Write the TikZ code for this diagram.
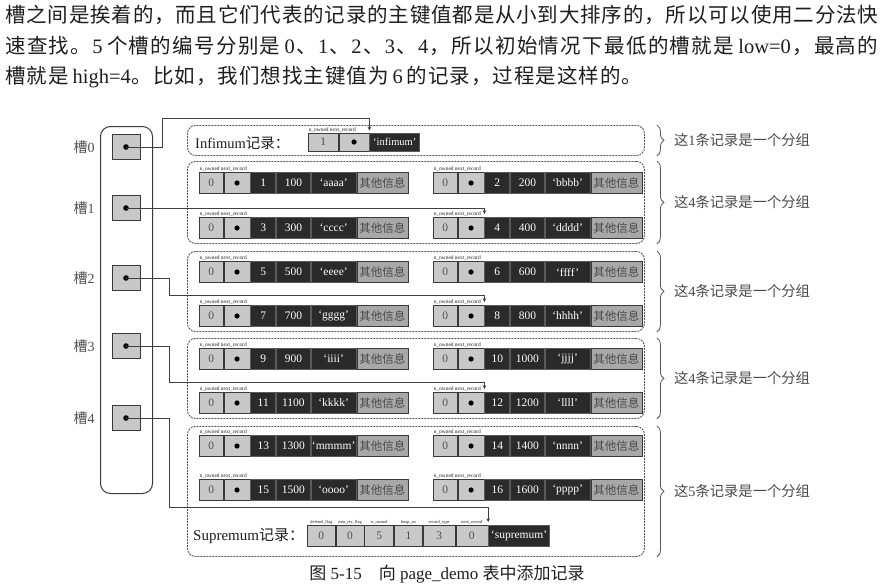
\documentclass[tikz,border=0pt]{standalone}
\usepackage{fontspec}
\setmainfont{Liberation Serif}
\newfontfamily\cjk{Noto Sans CJK SC}
\usetikzlibrary{arrows.meta,decorations.pathreplacing}
\newcommand\lat[1]{{\rmfamily #1}}
\ExplSyntaxOn
\NewDocumentCommand\spreadline{m m}
  {
    \makebox[#1][s]{ \tl_map_inline:nn {#2} { ##1 \skip_horizontal:n { 0pt plus 1fil } } \unskip }
  }
\ExplSyntaxOff
\definecolor{bordc}{HTML}{3A3A3A}
\definecolor{lightc}{HTML}{C8C8C8}
\definecolor{darkc}{HTML}{2A2A2A}
\definecolor{sepc}{HTML}{5A5A5A}
\definecolor{otherc}{HTML}{A8A8A8}
\definecolor{othertxt}{HTML}{4A4A4A}
\definecolor{grpc}{HTML}{555555}
\definecolor{connc}{HTML}{3F3F3F}
\definecolor{txtc}{HTML}{1E1E1E}
\definecolor{graytxt}{HTML}{505050}
\newcommand\rec[6]{%
  \node[lc,minimum width=24pt,anchor=west] (#1a) at (#2,#3) {0};
  \node[lc,minimum width=26pt,anchor=west] (#1b) at (#1a.east) {};
  \fill[black] (#1b.center) circle (2.6pt);
  \node[dc,minimum width=25pt,anchor=west] (#1c) at (#1b.east) {#4};
  \node[dc,minimum width=34pt,anchor=west] (#1d) at (#1c.east) {#5};
  \node[dc,minimum width=45pt,anchor=west] (#1e) at (#1d.east) {#6};
  \node[oc,minimum width=51pt,anchor=west] (#1f) at (#1e.east) {其他信息};
  \node[hdr,anchor=south west] (#1h) at (#1a.north west) {n\_owned next\_record};
}
\begin{document}
\begin{tikzpicture}[x=1pt,y=-1pt,
  lc/.style={draw=bordc,fill=lightc,minimum height=21pt,inner sep=0pt,line width=0.7pt,
    font=\fontsize{11.5}{12}\selectfont,text=graytxt},
  dc/.style={draw=sepc,fill=darkc,minimum height=21pt,inner sep=0pt,line width=0.7pt,
    font=\fontsize{11.5}{12}\selectfont,text=white},
  oc/.style={draw=bordc,fill=otherc,minimum height=21pt,inner sep=0pt,line width=0.7pt,
    font=\cjk\fontsize{11.5}{12}\selectfont,text=othertxt},
  hdr/.style={font=\fontsize{5.4}{6}\selectfont,inner sep=0.6pt,text=txtc},
  shdr/.style={font=\fontsize{4.4}{5}\selectfont,inner sep=0.4pt,text=txtc},
  grp/.style={draw=grpc,dash pattern=on 2pt off 1pt,rounded corners=8pt,line width=0.9pt,
    minimum width=457pt,inner sep=0pt,anchor=north west},
  conn/.style={draw=connc,line width=0.8pt},
  arr/.style={conn,-{Stealth[length=4pt,width=3.6pt]}},
  slotbox/.style={draw=bordc,fill=lightc,minimum width=28pt,minimum height=25pt,inner sep=0pt,line width=0.9pt},
  slotlbl/.style={font=\fontsize{14}{16}\selectfont,text=graytxt,inner sep=0pt},
  brc/.style={decorate,decoration={brace,amplitude=7pt},draw=grpc,line width=0.8pt},
  brlbl/.style={font=\cjk\fontsize{14.3}{16}\selectfont,text=othertxt,anchor=west,inner sep=0pt},
  ptext/.style={font=\cjk\fontsize{20.5}{22}\selectfont,text=txtc,anchor=west,inner sep=0pt}
]
\useasboundingbox[fill=white] (0,0) rectangle (883,587);

% top paragraph
\node[ptext] (t1) at (5,15) {\spreadline{873pt}{槽之间是挨着的，而且它们代表的记录的主键值都是从小到大排序的，所以可以使用二分法快}};
\node[ptext] (t2) at (5,46) {\spreadline{873pt}{速查找。{\lat{5}\hspace{3pt}}个槽的编号分别是{\hspace{3pt}\lat{0}}、{\lat{1}}、{\lat{2}}、{\lat{3}}、{\lat{4}}，所以初始情况下最低的槽就是{\hspace{3pt}\lat{low=0}}，最高的}};
\node[ptext] (t3) at (5,77) {\spreadline{637pt}{槽就是{\hspace{3pt}\lat{high=4}}。比如，我们想找主键值为{\hspace{3pt}\lat{6}\hspace{3pt}}的记录，过程是这样的。}};

% slot column
\node[draw=bordc,rounded corners=10pt,line width=1pt,minimum width=52pt,minimum height=367pt,
  inner sep=0pt,anchor=north west] (slots) at (100,126) {};
\node[slotbox] (s0) at (126,147) {};
\node[slotbox] (s1) at (126,208) {};
\node[slotbox] (s2) at (126,278) {};
\node[slotbox] (s3) at (126,346) {};
\node[slotbox] (s4) at (126,418) {};
\foreach \i in {0,...,4}{\fill[black] (s\i.center) circle (2.8pt);}
\node[slotlbl] (l0) at (84,147) {{\cjk 槽}0};
\node[slotlbl] (l1) at (84,208) {{\cjk 槽}1};
\node[slotlbl] (l2) at (84,278) {{\cjk 槽}2};
\node[slotlbl] (l3) at (84,346) {{\cjk 槽}3};
\node[slotlbl] (l4) at (84,418) {{\cjk 槽}4};

% groups
\node[grp,minimum height=30pt] (g0) at (187,125) {};
\node[grp,minimum height=82pt] (g1) at (187,161) {};
\node[grp,minimum height=80pt] (g2) at (187,251) {};
\node[grp,minimum height=80pt] (g3) at (187,338) {};
\node[grp,minimum height=130pt] (g4) at (187,426) {};

% infimum
\node[anchor=west,inner sep=0pt,font=\fontsize{14.5}{16}\selectfont,text=txtc] (inflbl) at (195,143) {Infimum{\cjk 记录：}};
\node[lc,minimum width=30pt,minimum height=18pt,anchor=west] (ia) at (308,142) {1};
\node[lc,minimum width=30pt,minimum height=18pt,anchor=west] (ib) at (ia.east) {};
\fill[black] (ib.center) circle (2.6pt);
\node[dc,minimum width=50pt,minimum height=18pt,anchor=west,font=\fontsize{10.5}{12}\selectfont] (ic) at (ib.east) {`infimum'};
\node[hdr,anchor=south west] (ih) at (ia.north west) {n\_owned next\_record};

% records
\rec{r1}{199}{183}{1}{100}{`aaaa'}
\rec{r2}{433}{183}{2}{200}{`bbbb'}
\rec{r3}{199}{228}{3}{300}{`cccc'}
\rec{r4}{433}{228}{4}{400}{`dddd'}
\rec{r5}{199}{272}{5}{500}{`eeee'}
\rec{r6}{433}{272}{6}{600}{`ffff'}
\rec{r7}{199}{316}{7}{700}{`gggg'}
\rec{r8}{433}{316}{8}{800}{`hhhh'}
\rec{r9}{199}{359}{9}{900}{`iiii'}
\rec{r10}{433}{359}{10}{1000}{`jjjj'}
\rec{r11}{199}{403}{11}{1100}{`kkkk'}
\rec{r12}{433}{403}{12}{1200}{`llll'}
\rec{r13}{199}{446}{13}{1300}{`mmmm'}
\rec{r14}{433}{446}{14}{1400}{`nnnn'}
\rec{r15}{199}{490}{15}{1500}{`oooo'}
\rec{r16}{433}{490}{16}{1600}{`pppp'}

% supremum
\node[anchor=west,inner sep=0pt,font=\fontsize{15}{16}\selectfont,text=txtc] (suplbl) at (193,536) {Supremum{\cjk 记录：}};
\node[lc,minimum width=28pt,anchor=west] (sa) at (307,536) {0};
\node[lc,minimum width=28pt,anchor=west] (sb) at (sa.east) {0};
\node[lc,minimum width=29pt,anchor=west] (sc) at (sb.east) {5};
\node[lc,minimum width=28pt,anchor=west] (sd) at (sc.east) {1};
\node[lc,minimum width=32pt,anchor=west] (se) at (sd.east) {3};
\node[lc,minimum width=32pt,anchor=west] (sf) at (se.east) {0};
\node[dc,minimum width=61pt,anchor=west] (sg) at (sf.east) {`supremum'};
\node[shdr,anchor=south] (sha) at (sa.north) {deleted\_flag};
\node[shdr,anchor=south] (shb) at (sb.north) {min\_rec\_flag};
\node[shdr,anchor=south] (shc) at (sc.north) {n\_owned};
\node[shdr,anchor=south] (shd) at (sd.north) {heap\_no};
\node[shdr,anchor=south] (she) at (se.north) {record\_type};
\node[shdr,anchor=south] (shf) at (sf.north) {next\_record};

% slot connectors
\draw[arr] (s0.center) -| (162,118) -| ([yshift=2pt]ib.north east);
\draw[arr] (s1.center) -| ([yshift=3pt]r4b.north east);
\draw[arr] (s2.center) -| (169,295) -| ([yshift=3pt]r8b.north east);
\draw[arr] (s3.center) -| (169,382) -| ([yshift=3pt]r12b.north east);
\draw[arr] (s4.center) -| (169,507) -| ([yshift=3pt]sf.north east);

% braces
\foreach \g in {0,...,4}{
  \draw[brc] ([xshift=12pt]g\g.north east) -- ([xshift=12pt]g\g.south east);
}
\node[brlbl] (b0) at ([xshift=29pt]g0.east) {这\lat{1}条记录是一个分组};
\node[brlbl] (b1) at ([xshift=29pt]g1.east) {这\lat{4}条记录是一个分组};
\node[brlbl] (b2) at ([xshift=29pt]g2.east) {这\lat{4}条记录是一个分组};
\node[brlbl] (b3) at ([xshift=29pt]g3.east) {这\lat{4}条记录是一个分组};
\node[brlbl] (b4) at ([xshift=29pt]g4.east) {这\lat{5}条记录是一个分组};

% caption
\node[font=\fontsize{17}{18}\selectfont,text=txtc,inner sep=0pt] (cap) at (447,574)
  {{\cjk 图} 5-15\quad{\cjk 向} page\_demo {\cjk 表中添加记录}};
\end{tikzpicture}
\end{document}
